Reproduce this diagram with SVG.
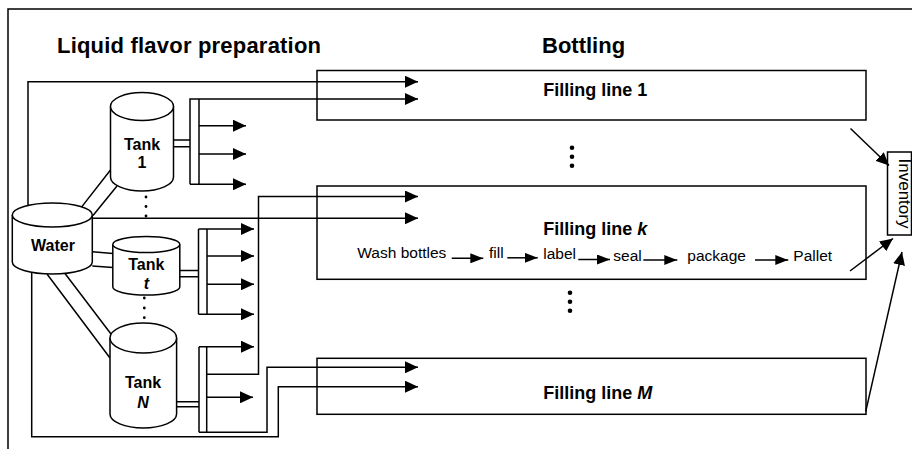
<svg xmlns="http://www.w3.org/2000/svg" width="912" height="449" viewBox="0 0 912 449">
<style>
text{font-family:"Liberation Sans",Arial,sans-serif;fill:#000}
.t{font-size:22px;font-weight:bold}
.fl{font-size:18px;font-weight:bold}
.tk{font-size:16px;font-weight:bold;text-anchor:middle}
.p{font-size:15.5px}
.ln{fill:none;stroke:#000;stroke-width:1.5}
.sh{fill:#fff;stroke:#000;stroke-width:1.5}
.a{marker-end:url(#ah)}
.as{marker-end:url(#ahs)}
</style>
<defs>
<marker id="ah" markerWidth="13" markerHeight="12" refX="13" refY="6" orient="auto" markerUnits="userSpaceOnUse"><path d="M0,0 L13,6 L0,12 z" fill="#000"/></marker>
<marker id="ahs" markerWidth="13" markerHeight="10" refX="13" refY="5" orient="auto" markerUnits="userSpaceOnUse"><path d="M0,0 L13,5 L0,10 z" fill="#000"/></marker>
</defs>
<rect width="912" height="449" fill="#fff"/>
<path class="ln" d="M8,449 V9 H912"/>
<text class="t" x="57" y="53" textLength="264">Liquid flavor preparation</text>
<text class="t" x="542" y="53">Bottling</text>

<g id="connectors">
<path class="ln a" d="M28,205.5 V81.7 H418"/>
<path class="ln a" d="M190,184.3 V99 H418"/>
<path class="ln" d="M199,99 V184.3"/>
<path class="ln a" d="M199,125.7 H246"/>
<path class="ln a" d="M199,154 H246"/>
<path class="ln a" d="M190,184.3 H246"/>
<path class="ln" d="M173.5,140 H190 M173.5,146.7 H190"/>
<path class="ln" d="M81.7,206.9 L110.5,170 M93,215.5 L117,186"/>
<path class="ln a" d="M92.3,218.3 H418"/>
<path class="ln a" d="M206.7,374.3 H258.5 V196.5 H418"/>
<path class="ln" d="M92.3,251.7 L113,253.5 M92.3,266 L113,267.5"/>
<path class="ln" d="M198.5,229 V314.3 M207,229 V314.3"/>
<path class="ln a" d="M198.5,229 H254"/>
<path class="ln a" d="M207,256 H254"/>
<path class="ln a" d="M207,284.3 H254"/>
<path class="ln a" d="M198.5,314.3 H254"/>
<path class="ln" d="M180,270.5 H198.5 M180,276.7 H198.5"/>
<path class="ln" d="M47,274 L110,358 M65,273.5 L111,334"/>
<path class="ln" d="M199,346.7 V432.2 M206.7,346.7 V432.2"/>
<path class="ln a" d="M199,346.7 H254"/>
<path class="ln a" d="M206.7,397.3 H253"/>
<path class="ln" d="M176.7,401.7 H199 M176.7,406.7 H199"/>
<path class="ln a" d="M199,432.2 H267 V367.3 H418"/>
<path class="ln a" d="M31.7,272.5 V436.7 H278.3 V386.7 H418"/>
<path class="ln as" d="M451.7,258.3 H483.3"/>
<path class="ln as" d="M507.3,257.8 H537.7"/>
<path class="ln as" d="M578.3,259.5 H610"/>
<path class="ln as" d="M643.3,260 H677.3"/>
<path class="ln as" d="M755,260 H788.3"/>
<path class="ln a" d="M850.5,128.5 L889,165.5"/>
<path class="ln a" d="M850,271 L893,238.5"/>
<path class="ln a" d="M865.7,411.7 L902,252"/>
</g>

<g id="filling-line-1">
<rect class="ln" x="317" y="70.5" width="549" height="49.5"/>
<text class="fl" x="543.3" y="95.7">Filling line 1</text>
</g>
<g id="filling-line-k">
<rect class="ln" x="317" y="186" width="549" height="93.3"/>
<text class="fl" x="543.3" y="235">Filling line <tspan font-style="italic">k</tspan></text>
<text class="p" x="357.3" y="257.5">Wash bottles</text>
<text class="p" x="489" y="257.5">fill</text>
<text class="p" x="543.3" y="259">label</text>
<text class="p" x="613.3" y="261">seal</text>
<text class="p" x="687.3" y="261">package</text>
<text class="p" x="793.3" y="261">Pallet</text>
</g>
<g id="filling-line-M">
<rect class="ln" x="317" y="358.3" width="549" height="56"/>
<text class="fl" x="543.3" y="399">Filling line <tspan font-style="italic">M</tspan></text>
</g>
<g id="bottling-dots">
<circle cx="572" cy="147.7" r="2.3"/><circle cx="572" cy="156.7" r="2.3"/><circle cx="572" cy="165.7" r="2.3"/>
<circle cx="570" cy="292.7" r="2.3"/><circle cx="570" cy="301.7" r="2.3"/><circle cx="570" cy="310.7" r="2.3"/>
</g>
<g id="inventory">
<rect class="ln" x="887.5" y="152" width="24" height="83"/>
<text font-size="17" transform="translate(898.5,193.5) rotate(90)" text-anchor="middle">Inventory</text>
</g>

<g id="water">
<path class="sh" d="M12.3,215 V262 A40,12 0 0 0 92.3,262 V215"/>
<ellipse class="sh" cx="52.3" cy="215" rx="40" ry="12"/>
<text class="tk" x="53" y="250.7">Water</text>
</g>
<g id="tank-1">
<path class="sh" d="M110.5,106.5 V177 A31.5,14 0 0 0 173.5,177 V106.5"/>
<ellipse class="sh" cx="142" cy="106.5" rx="31.5" ry="14"/>
<text class="tk" x="142" y="150">Tank</text>
<text class="tk" x="142" y="168.3">1</text>
</g>
<g id="tank-t">
<path class="sh" d="M112.8,244.5 V287 A33.5,8 0 0 0 179.8,287 V244.5"/>
<ellipse class="sh" cx="146.3" cy="244.5" rx="33.5" ry="8"/>
<text class="tk" x="146.3" y="270">Tank</text>
<text class="tk" x="146.3" y="289" font-style="italic">t</text>
</g>
<g id="tank-N">
<path class="sh" d="M110,338 V414 A33.3,14 0 0 0 176.6,414 V338"/>
<ellipse class="sh" cx="143.3" cy="338" rx="33.3" ry="15"/>
<text class="tk" x="143" y="387.7">Tank</text>
<text class="tk" x="143" y="408" font-style="italic">N</text>
</g>
<g id="tank-dots">
<circle cx="146" cy="197" r="1.4"/><circle cx="146" cy="206.5" r="1.4"/><circle cx="146" cy="216" r="1.4"/>
<circle cx="144.3" cy="298" r="1.4"/><circle cx="144.3" cy="308" r="1.4"/><circle cx="144.3" cy="317.7" r="1.4"/>
</g>
</svg>
